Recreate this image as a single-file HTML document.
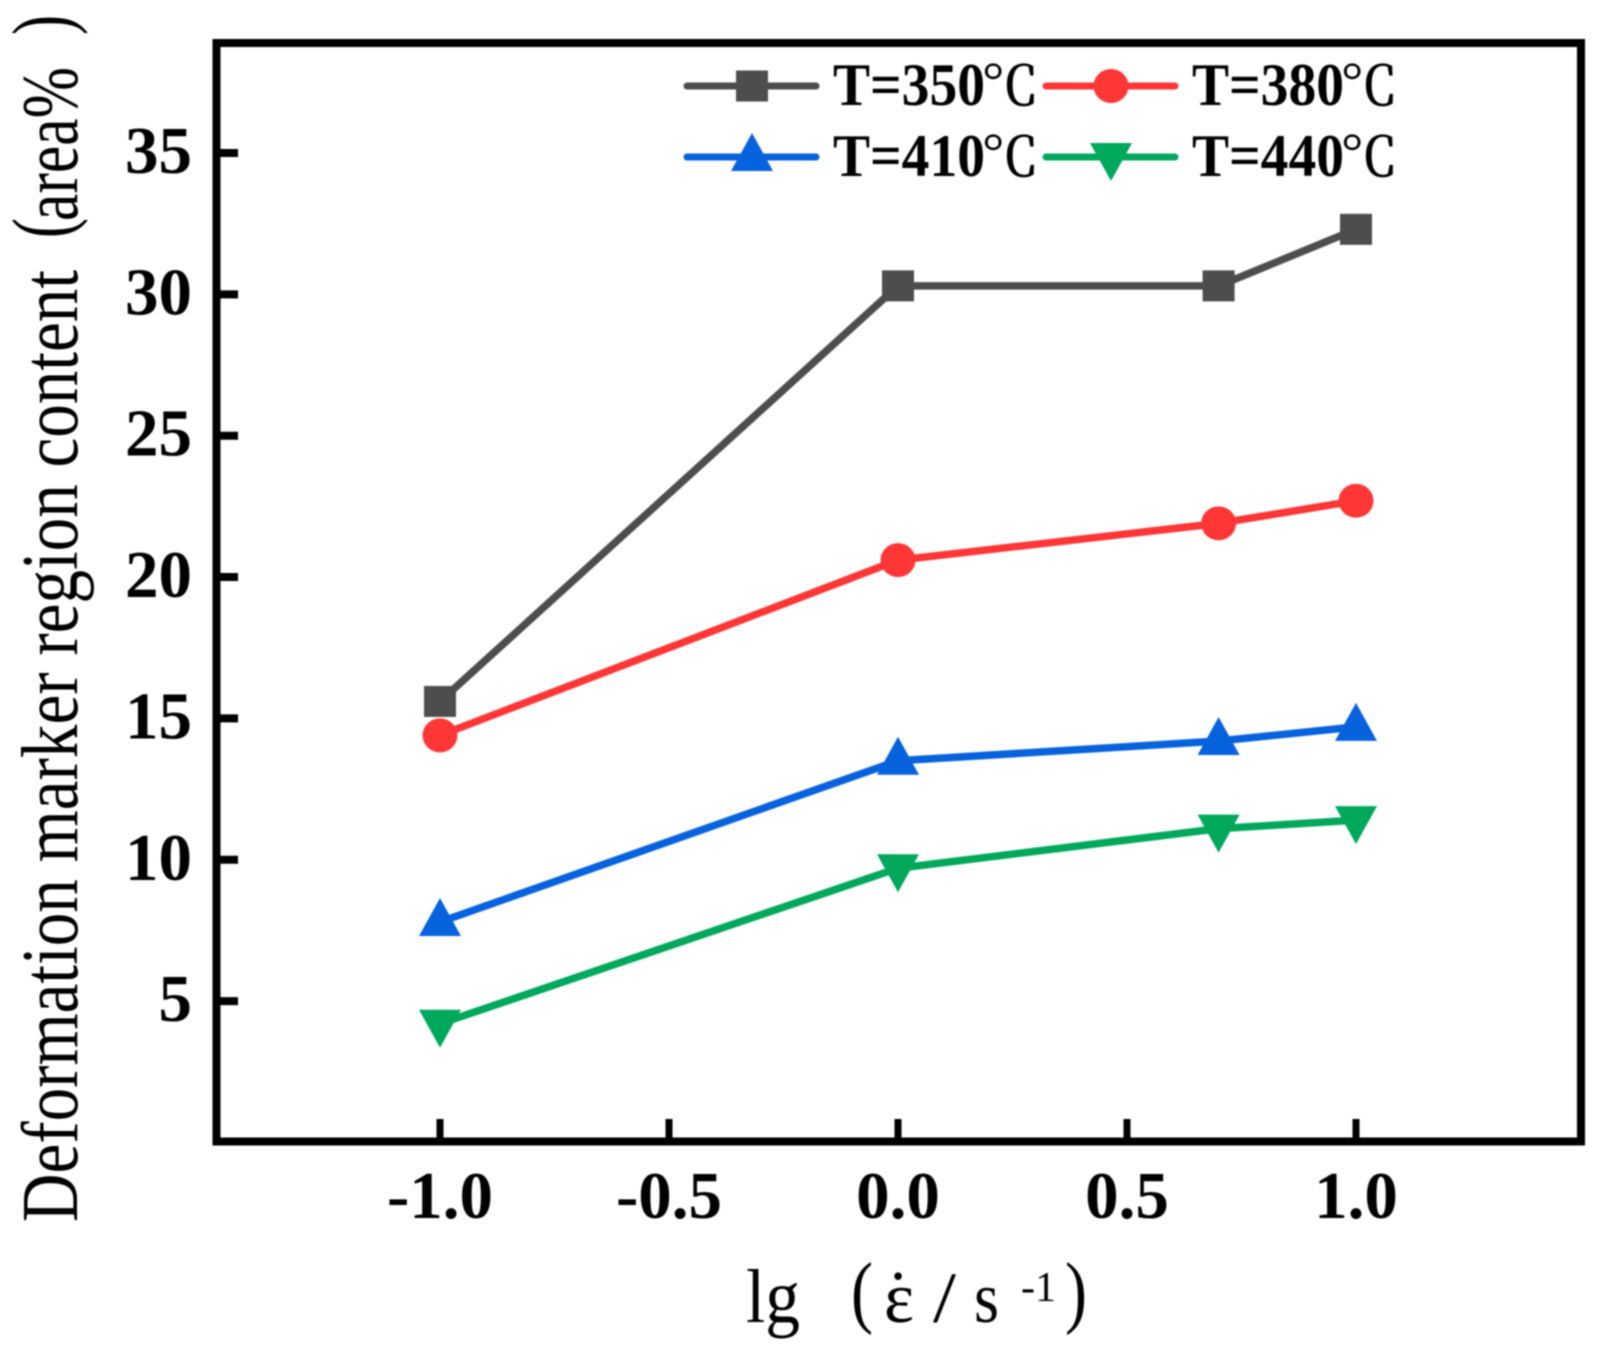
<!DOCTYPE html>
<html lang="en">
<head>
<meta charset="utf-8">
<title>Deformation marker region content chart</title>
<style>
html,body{margin:0;padding:0;background:#fff;}
svg{display:block;filter:blur(0.8px);}
text{fill:#000;font-family:"Liberation Serif","Noto Serif CJK SC",serif;}
.tick{font-weight:bold;font-size:67px;}
.leg{font-weight:bold;font-size:60px;}
.unit{font-family:"Liberation Serif","Noto Serif CJK SC",serif;font-size:54px;font-weight:normal;stroke:#000;stroke-width:0.8px;}
</style>
</head>
<body>
<svg id="chart" xmlns="http://www.w3.org/2000/svg" width="1600" height="1355" viewBox="0 0 1600 1355">
  <rect x="0" y="0" width="1600" height="1355" fill="#fff"/>
  <g id="ticks"></g>
  <g id="series"></g>
  <rect x="216.5" y="43" width="1364.5" height="1098.5" fill="none" stroke="#000" stroke-width="8"/>

  <g>
    <text transform="translate(77,1222) rotate(-90)" font-size="81" textLength="952" lengthAdjust="spacingAndGlyphs">Deformation marker region content</text>
    <text transform="translate(70,238) rotate(-90)" font-size="84" textLength="20" lengthAdjust="spacingAndGlyphs">(</text>
    <text transform="translate(77,221) rotate(-90)" font-size="81" textLength="154" lengthAdjust="spacingAndGlyphs">area%</text>
    <text transform="translate(70,35) rotate(-90)" font-size="84" textLength="20" lengthAdjust="spacingAndGlyphs">)</text>
  </g>

  <g>
    <text x="746" y="1322" font-size="76" textLength="54" lengthAdjust="spacingAndGlyphs">lg</text>
    <text x="851" y="1318" font-size="80" textLength="22" lengthAdjust="spacingAndGlyphs">(</text>
    <text x="884" y="1322" font-size="72" textLength="30" lengthAdjust="spacingAndGlyphs">&#949;</text>
    <text x="898" y="1320" font-size="72" text-anchor="middle">&#729;</text>
    <text x="933" y="1322" font-size="72" textLength="23" lengthAdjust="spacingAndGlyphs">/</text>
    <text x="974" y="1322" font-size="72" textLength="25" lengthAdjust="spacingAndGlyphs">s</text>
    <text x="1021" y="1301" font-size="42" textLength="35" lengthAdjust="spacingAndGlyphs">-1</text>
    <text x="1065" y="1318" font-size="80" textLength="22" lengthAdjust="spacingAndGlyphs">)</text>
  </g>

  <g id="legend"></g>
</svg>
<script>
const xCategories = [-1, 0, 0.7, 1];
const xTickValues = [-1, -0.5, 0, 0.5, 1];
const xTickLabels = ["-1.0", "-0.5", "0.0", "0.5", "1.0"];
const yTickValues = [5, 10, 15, 20, 25, 30, 35];
const yTickLabels = ["5", "10", "15", "20", "25", "30", "35"];
const seriesNames = ["T=350", "T=380", "T=410", "T=440"];
const series350 = [15.6, 30.3, 30.3, 32.3];
const series380 = [14.4, 20.6, 21.9, 22.7];
const series410 = [7.8, 13.5, 14.2, 14.7];
const series440 = [4.2, 9.7, 11.1, 11.4];

const NS = "http://www.w3.org/2000/svg";
function xScale(v) { return 898 + 458 * v; }
function yScale(v) { return 153 + (35 - v) * 28.27; }
function make(tag, attrs, parent, text) {
  const el = document.createElementNS(NS, tag);
  for (const k in attrs) el.setAttribute(k, attrs[k]);
  if (text !== undefined) el.textContent = text;
  parent.appendChild(el);
  return el;
}
function drawMarker(kind, cx, cy, color, parent) {
  let el;
  if (kind === "square") {
    el = make("rect", { x: cx - 16, y: cy - 15.5, width: 32, height: 31, fill: color }, parent);
  } else if (kind === "circle") {
    el = make("ellipse", { cx: cx, cy: cy, rx: 17.5, ry: 17, fill: color }, parent);
  } else if (kind === "up") {
    el = make("polygon", { points: (cx - 21) + "," + (cy + 14) + " " + (cx + 21) + "," + (cy + 14) + " " + cx + "," + (cy - 24), fill: color }, parent);
  } else {
    el = make("polygon", { points: (cx - 21) + "," + (cy - 14) + " " + (cx + 21) + "," + (cy - 14) + " " + cx + "," + (cy + 24), fill: color }, parent);
  }
  return el;
}

const ticksG = document.getElementById("ticks");
xTickValues.forEach(function (v, i) {
  const line = make("line", { x1: xScale(v), x2: xScale(v), y1: 1141, y2: 1119, stroke: "#000", "stroke-width": 7 }, ticksG);
  
  
  const t = make("text", { x: xScale(v), y: 1218, "text-anchor": "middle", "class": "tick" }, ticksG, xTickLabels[i]);
  
  
});
yTickValues.forEach(function (v, i) {
  const line = make("line", { x1: 216, x2: 238, y1: yScale(v), y2: yScale(v), stroke: "#000", "stroke-width": 8 }, ticksG);
  
  
  const t = make("text", { x: 192, y: yScale(v) + 20, "text-anchor": "end", "class": "tick" }, ticksG, yTickLabels[i]);
  
  
});

const colors = ["#4d4d4d", "#ff3636", "#0762de", "#00a85c"];
const kinds = ["square", "circle", "up", "down"];
const allValues = [series350, series380, series410, series440];
const seriesG = document.getElementById("series");
allValues.forEach(function (vals, s) {
  const g = make("g", {}, seriesG);
  
  
  const pts = vals.map(function (v, i) { return xScale(xCategories[i]) + "," + yScale(v); }).join(" ");
  const line = make("polyline", { points: pts, fill: "none", stroke: colors[s], "stroke-width": 7.5, "stroke-linejoin": "round" }, g);
  
  
  vals.forEach(function (v, i) {
    const m = drawMarker(kinds[s], xScale(xCategories[i]), yScale(v), colors[s], g);
    
    
  });
});

const legendG = document.getElementById("legend");
const legendCols = [687, 1046];
const legendRows = [86, 157];
seriesNames.forEach(function (name, s) {
  const col = legendCols[s % 2];
  const row = legendRows[Math.floor(s / 2)];
  const g = make("g", {}, legendG);
  
  
  const line = make("line", { x1: col, x2: col + 129, y1: row, y2: row, stroke: colors[s], "stroke-width": 7, "stroke-linecap": "round" }, g);
  
  
  const m = drawMarker(kinds[s], col + 65, row, colors[s], g);
  
  
  const t = make("text", { x: col + 146, y: row + 19, "class": "leg", textLength: 152, lengthAdjust: "spacingAndGlyphs" }, g, name);
  
  
  const u = make("text", { x: col + 294, y: row + 19, "class": "unit", textLength: 58, lengthAdjust: "spacingAndGlyphs" }, g, "\u2103");
  
  
});
</script>
</body>
</html>
